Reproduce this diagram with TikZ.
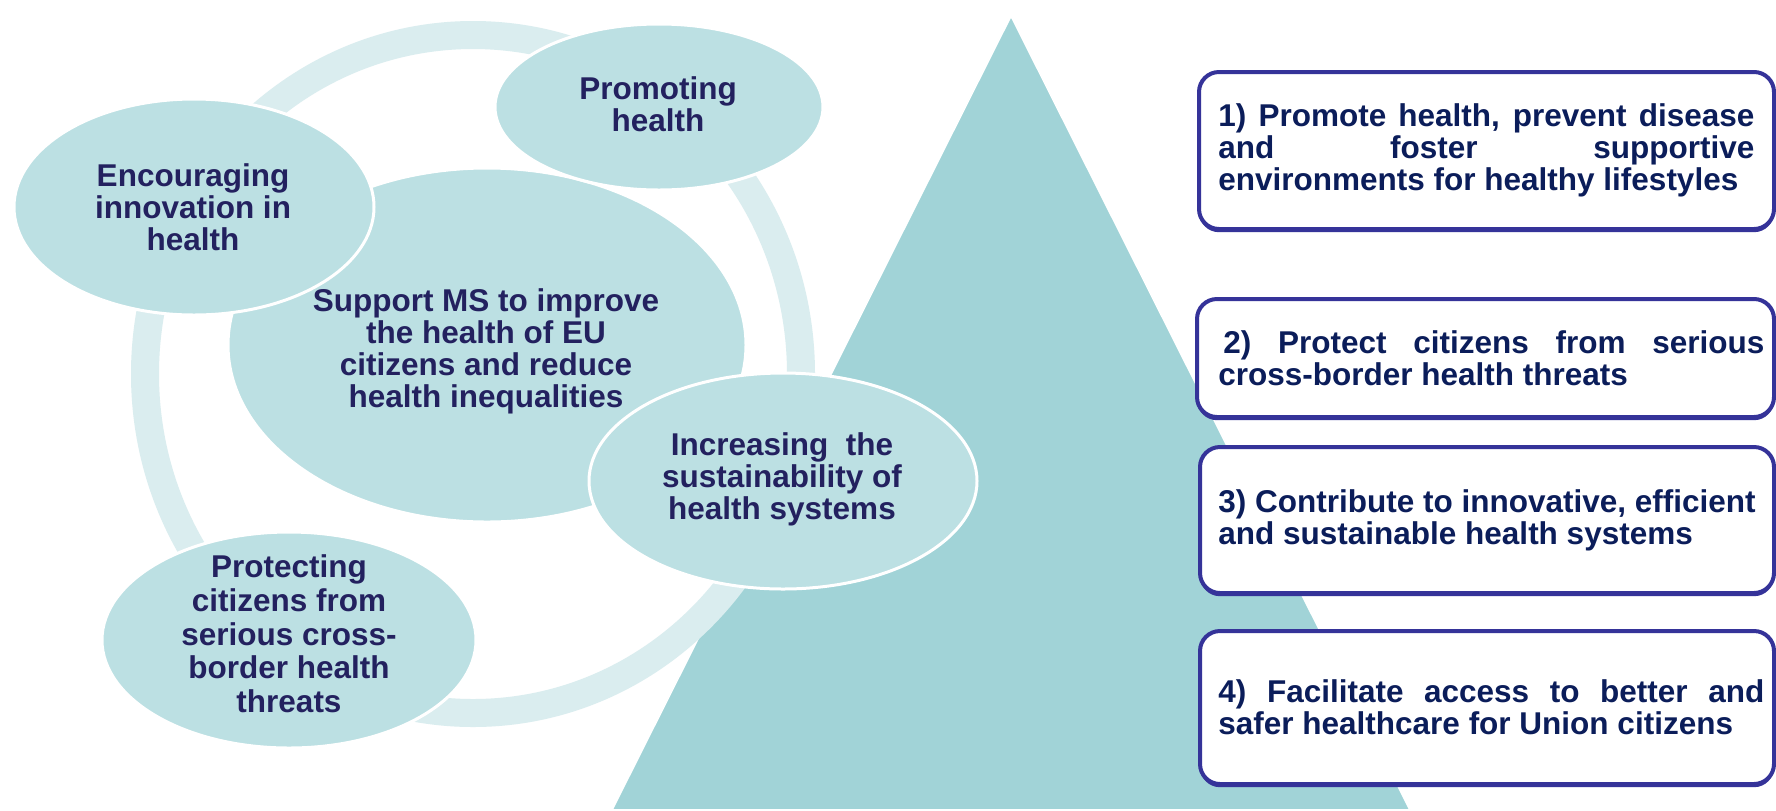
\documentclass[tikz,border=0pt]{standalone}
\usepackage{fontspec}
\setmainfont{Liberation Sans}
\usetikzlibrary{shapes.geometric,shadows}
\definecolor{ellfill}{HTML}{BCE0E3}
\definecolor{ringc}{HTML}{DAEDEF}
\definecolor{tric}{HTML}{A1D3D7}
\definecolor{boxc}{HTML}{353399}
\definecolor{etext}{HTML}{23215F}
\definecolor{btext}{HTML}{0B1D5A}
\begin{document}
\begin{tikzpicture}[x=0.5pt,y=-0.5pt,
  bubble/.style={ellipse, fill=ellfill, draw=white, line width=1.5pt, inner sep=0pt},
  bubbletext/.style={align=center, inner sep=0pt, text=etext, font=\bfseries\fontsize{15.75pt}{16pt}\selectfont},
  goalbox/.style={draw=boxc, line width=2pt, fill=white, rounded corners=10pt, minimum width=287.5pt, inner sep=0pt, anchor=north west,
    drop shadow={shadow xshift=0pt, shadow yshift=-1.6pt, fill=boxc, opacity=1}},
  goaltext/.style={anchor=west, align=left, inner sep=0pt, text=btext, font=\bfseries\fontsize{15.75pt}{15.85pt}\selectfont},
]
\useasboundingbox (0,0) rectangle (1776,810);
\fill[white] (0,0) rectangle (1776,810);

% triangle
\fill[tric, draw=white, line width=0.8pt] (1011,16) -- (1410,810) -- (612,810) -- cycle;

% ring
\draw[ringc, line width=14pt] (473,374) ellipse [x radius=328, y radius=339];

% bubbles
\node[bubble, minimum width=259pt, minimum height=177pt] (core) at (487,345) {};
\node[bubble, minimum width=180pt, minimum height=108pt] (innov) at (194,207) {};
\node[bubble, minimum width=164pt, minimum height=83pt] (promo) at (659,107) {};
\node[bubble, minimum width=187pt, minimum height=108pt] (prot) at (289,640) {};
\node[bubble, minimum width=194pt, minimum height=108pt] (sust) at (783,481) {};

\node[bubbletext] (coretext) at (486,351) {Support MS to improve\\the health of EU\\citizens and reduce\\health inequalities};
\node[bubbletext] (innovtext) at (193,207) {Encouraging\\innovation in\\health};
\node[bubbletext] (promotext) at (658,104) {Promoting\\health};
\node[bubbletext, font=\bfseries\fontsize{15.75pt}{16.85pt}\selectfont] (prottext) at (289,634) {Protecting\\citizens from\\serious cross-\\border health\\threats};
\node[bubbletext] (susttext) at (782,479) {Increasing\ \ the\\sustainability of\\health systems};

% goal boxes
\node[goalbox, minimum height=78.5pt] (b1) at (1197,70) {};
\node[goalbox, minimum height=59pt, minimum width=288.5pt] (b2) at (1195,297) {};
\node[goalbox, minimum height=73pt, minimum width=287pt] (b3) at (1198,445) {};
\node[goalbox, minimum height=76.5pt, minimum width=287pt] (b4) at (1198,629) {};

\node[goaltext] (t1) at ([xshift=10.5pt]b1.west) {\makebox[268pt][s]{1) Promote health, prevent disease}\\\makebox[268pt][s]{and foster supportive}\\environments for healthy lifestyles};
\node[goaltext] (t2) at ([xshift=11.5pt]b2.west) {\makebox[273pt][s]{\hspace*{2.5pt}2) Protect citizens from serious}\\cross-border health threats};
\node[goaltext] (t3) at ([xshift=10pt]b3.west) {3) Contribute to innovative, efficient\\and sustainable health systems};
\node[goaltext] (t4) at ([xshift=10pt]b4.west) {\makebox[273pt][s]{4) Facilitate access to better and}\\safer healthcare for Union citizens};
\end{tikzpicture}
\end{document}
